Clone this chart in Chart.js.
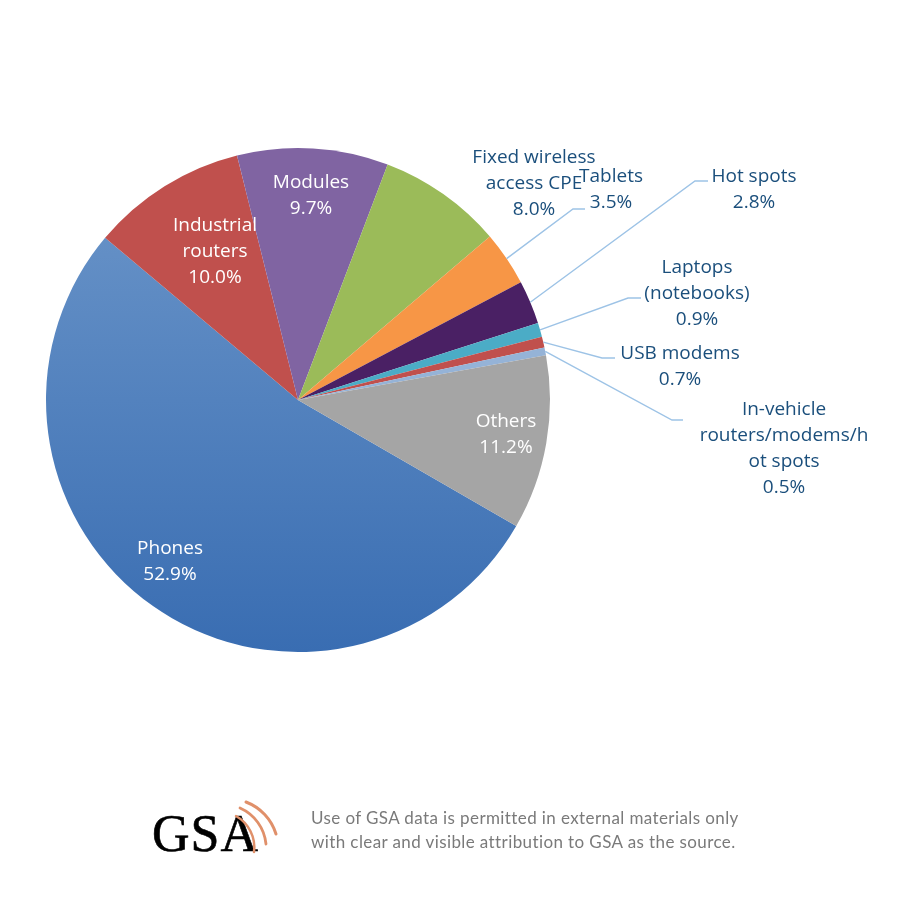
<!DOCTYPE html>
<html>
<head>
<meta charset="utf-8">
<script src="https://cdn.jsdelivr.net/npm/chart.js@4/dist/chart.umd.min.js"></script>
<style>
  html, body { margin: 0; padding: 0; background: #ffffff; }
  #wrap { position: relative; width: 900px; height: 900px; }
  #c { position: absolute; left: 0; top: 0; }
  #logo { position: absolute; left: 148px; top: 796px; width: 150px; height: 70px; }
  #logoText { position: absolute; left: 4px; top: 8px; font-family: "Liberation Serif", "DejaVu Serif", serif; font-size: 52px; color: #000; letter-spacing: 1px; line-height: 60px; -webkit-text-stroke: 0.6px #000; }
  #logo svg { position: absolute; left: 0; top: 0; }
  #note { position: absolute; left: 311px; top: 806px; font-family: Lato, "Open Sans", sans-serif; font-size: 17px; line-height: 24px; color: #7a7a7a; letter-spacing: 0.4px; }
</style>
</head>
<body>
<div id="wrap">
  <canvas id="c" width="900" height="900"></canvas>
  <div id="logo">
    <div id="logoText">GSA</div>
    <svg width="150" height="70" viewBox="0 0 150 70">
      <g fill="none" stroke="#e0906a" stroke-linecap="round">
        <path d="M 88 20 A 36 36 0 0 1 106 56" stroke-width="2.5"/>
        <path d="M 92 12 A 44 44 0 0 1 118 48" stroke-width="2.8"/>
        <path d="M 98 6 A 50 50 0 0 1 128 38" stroke-width="3"/>
      </g>
    </svg>
  </div>
  <div id="note">Use of GSA data is permitted in external materials only<br>with clear and visible attribution to GSA as the source.</div>
</div>
<script>
const categories = ["Phones", "Industrial routers", "Modules", "Fixed wireless access CPE", "Tablets", "Hot spots", "Laptops (notebooks)", "USB modems", "In-vehicle routers/modems/hot spots", "Others"];
const shares = [52.9, 10.0, 9.7, 8.0, 3.5, 2.8, 0.9, 0.7, 0.5, 11.2];
const labelLines = [
  ["Phones"], ["Industrial", "routers"], ["Modules"], ["Fixed wireless", "access CPE"], ["Tablets"],
  ["Hot spots"], ["Laptops", "(notebooks)"], ["USB modems"], ["In-vehicle", "routers/modems/h", "ot spots"], ["Others"]
];
const sliceColors = ["#4f80bd", "#c0504d", "#8064a2", "#9bbb59", "#f79646", "#4a2064", "#4bacc6", "#c0504d", "#95b3d7", "#a5a5a5"];

// Label layout (offsets from pie centre, px): text block centre, optional leader elbow
const labelLayout = [
  { dx: -128, dy: 162, inside: true },
  { dx: -83, dy: -148, inside: true },
  { dx: 13, dy: -204, inside: true },
  { dx: 236, dy: -216 },
  { dx: 313, dy: -210, elbow: [275, -191], tail: 12 },
  { dx: 456, dy: -210, elbow: [397, -219], tail: 13 },
  { dx: 399, dy: -106, elbow: [330, -102], tail: 13 },
  { dx: 382, dy: -33, elbow: [304, -42], tail: 13 },
  { dx: 486, dy: 49, elbow: [374, 20], tail: 11 },
  { dx: 208, dy: 35, inside: true }
];

const labelPlugin = {
  id: 'sliceLabels',
  afterDraw(chart) {
    const ctx = chart.ctx;
    const meta = chart.getDatasetMeta(0);
    ctx.save();
    meta.data.forEach((arc, i) => {
      const cx = arc.x, cy = arc.y, r = arc.outerRadius;
      const lay = labelLayout[i];
      const lines = labelLines[i].concat([shares[i].toFixed(1) + "%"]);
      const lh = 26;
      const bx = cx + lay.dx, by = cy + lay.dy;
      if (lay.elbow) {
        const mid = (arc.startAngle + arc.endAngle) / 2;
        const sx = cx + Math.cos(mid) * r, sy = cy + Math.sin(mid) * r;
        const ex = cx + lay.elbow[0], ey = cy + lay.elbow[1];
        ctx.beginPath();
        ctx.strokeStyle = "#9dc3e6";
        ctx.lineWidth = 1.4;
        ctx.moveTo(sx, sy);
        ctx.lineTo(ex, ey);
        ctx.lineTo(ex + lay.tail, ey);
        ctx.stroke();
      }
      ctx.font = "19px 'Open Sans'";
      ctx.textAlign = "center";
      ctx.textBaseline = "middle";
      ctx.fillStyle = lay.inside ? "#ffffff" : "#1b4f7c";
      const top = by - (lines.length - 1) * lh / 2;
      lines.forEach((t, k) => ctx.fillText(t, bx, top + k * lh));
    });
    ctx.restore();
  }
};

new Chart(document.getElementById('c'), {
  type: 'pie',
  data: {
    labels: categories,
    datasets: [{
      data: shares,
      backgroundColor: (c) => {
        if (c.dataIndex !== 0) return sliceColors[c.dataIndex];
        const area = c.chart.chartArea;
        if (!area) return sliceColors[0];
        const g = c.chart.ctx.createLinearGradient(0, area.top, 0, area.bottom);
        g.addColorStop(0, "#6d97ca");
        g.addColorStop(1, "#396db2");
        return g;
      },
      borderWidth: 0,
      hoverOffset: 0
    }]
  },
  options: {
    responsive: false,
    animation: false,
    rotation: 120,
    layout: { padding: { left: 46, top: 148, right: 350, bottom: 248 } },
    plugins: { legend: { display: false }, tooltip: { enabled: false } },
    events: []
  },
  plugins: [labelPlugin]
});
</script>
</body>
</html>
